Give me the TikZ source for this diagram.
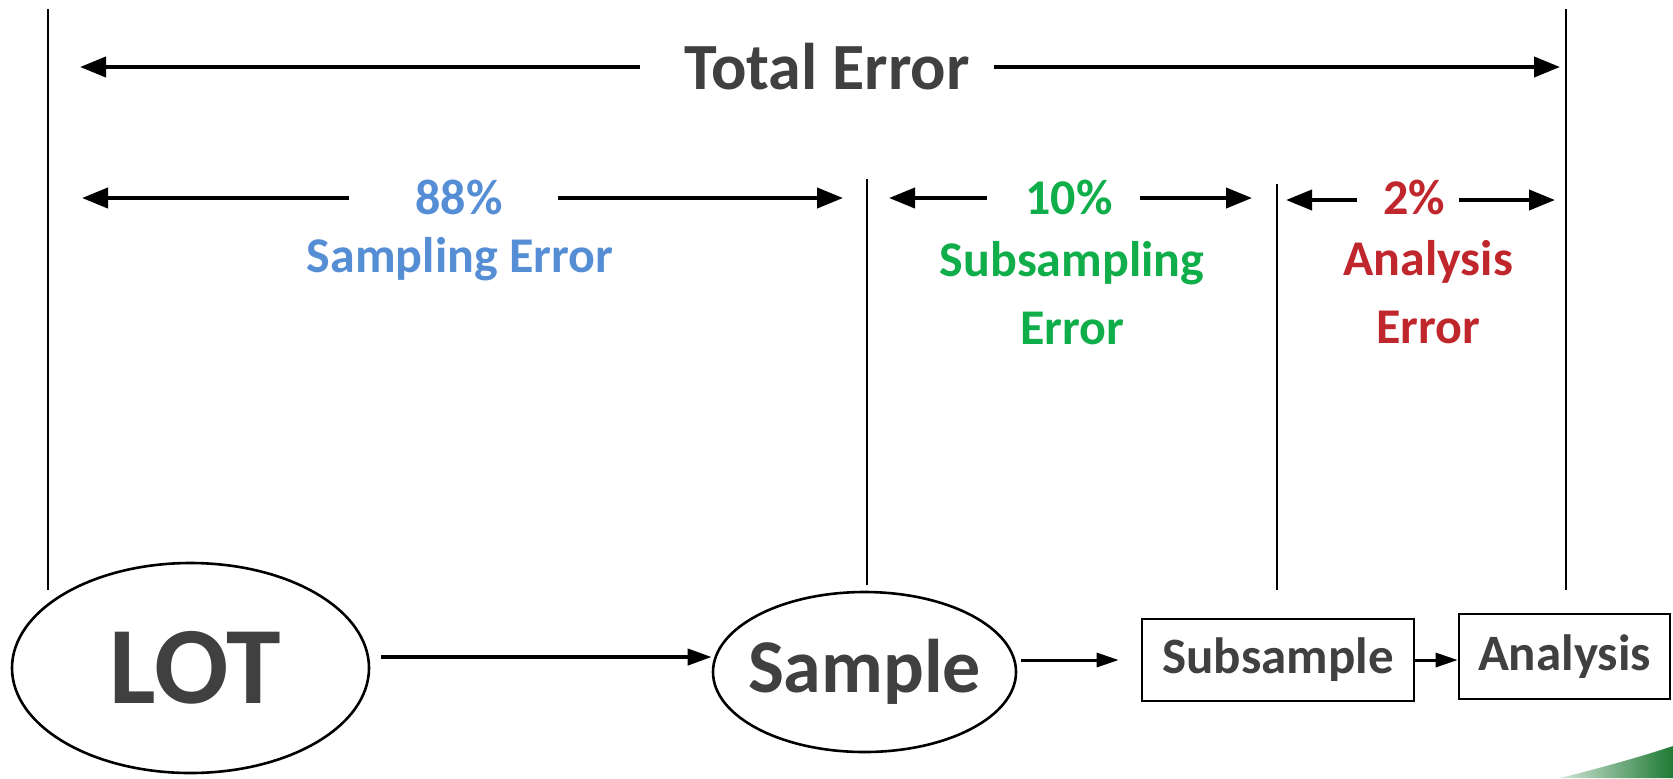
\documentclass[tikz,border=0pt]{standalone}
\usepackage{fontspec}
\setmainfont{Carlito}
\usetikzlibrary{arrows.meta,shapes.geometric}
\definecolor{txtgray}{HTML}{404040}
\definecolor{errblue}{HTML}{558ED5}
\definecolor{errgreen}{HTML}{10AE4A}
\definecolor{errred}{HTML}{C0272D}
\definecolor{swoosh}{HTML}{1E7A34}
\tikzset{
  vline/.style={line width=1pt, black},
  dimarrow/.style={line width=2pt, -{Triangle[length=13pt,width=10pt]}},
  flow/.style={line width=2pt, -{Triangle[length=12pt,width=8pt]}},
  flowthin/.style={line width=1.5pt, -{Triangle[length=11pt,width=7pt]}},
  oval/.style={ellipse, draw, line width=1.3pt, inner sep=0pt, font=\bfseries, text=txtgray},
  stepbox/.style={rectangle, draw, line width=1.3pt, inner sep=0pt, font=\bfseries\fontsize{25.5}{30}\selectfont, text=txtgray},
  lbl/.style={font=\bfseries\fontsize{25}{30}\selectfont, align=center, inner sep=0pt}
}
\begin{document}
\begin{tikzpicture}[x=0.5pt,y=-0.5pt]
\useasboundingbox (0,0) rectangle (1673,778);

% vertical reference lines
\draw[vline] (48,9) -- (48,590);
\draw[vline] (867,179) -- (867,585);
\draw[vline] (1277,184) -- (1277,590);
\draw[vline] (1566,9) -- (1566,590);

% Total error
\node[font=\bfseries\fontsize{33}{40}\selectfont, text=txtgray, inner sep=0pt] (tot) at (827,67) {Total Error};
\coordinate (totL) at (80,67);
\coordinate (totLe) at (640,67);
\coordinate (totR) at (1560,67);
\coordinate (totRs) at (994,67);
\draw[dimarrow] (totLe) -- (totL);
\draw[dimarrow] (totRs) -- (totR);

% 88 % sampling error
\node[lbl, text=errblue] (p88) at (459,197) {88\%};
\node[lbl, text=errblue] (samperr) at (460,259) {Sampling Error};
\coordinate (a1L) at (82,198);
\coordinate (a1Le) at (349,198);
\coordinate (a1Rs) at (558,198);
\coordinate (a1R) at (843,198);
\draw[dimarrow] (a1Le) -- (a1L);
\draw[dimarrow] (a1Rs) -- (a1R);

% 10 % subsampling error
\node[lbl, text=errgreen] (p10) at (1069,197) {10\%};
\node[lbl, text=errgreen] (suberr) at (1072,293) {Subsampling\\[4pt]Error};
\coordinate (a2L) at (889,198);
\coordinate (a2Le) at (987,198);
\coordinate (a2Rs) at (1140,198);
\coordinate (a2R) at (1252,198);
\draw[dimarrow] (a2Le) -- (a2L);
\draw[dimarrow] (a2Rs) -- (a2R);

% 2 % analysis error
\node[lbl, text=errred] (p2) at (1414,197) {2\%};
\node[lbl, text=errred] (anaerr) at (1428,292) {Analysis\\[4pt]Error};
\coordinate (a3L) at (1286,200);
\coordinate (a3Le) at (1357,200);
\coordinate (a3Rs) at (1459,200);
\coordinate (a3R) at (1555,200);
\draw[dimarrow] (a3Le) -- (a3L);
\draw[dimarrow] (a3Rs) -- (a3R);

% process chain
\node[oval, minimum width=178.5pt, minimum height=105pt, font=\bfseries\fontsize{55}{60}\selectfont] (lot) at (190.5,668) {\hspace*{5pt}LOT};
\node[oval, inner xsep=-12pt, minimum width=151.5pt, minimum height=80pt, font=\bfseries\fontsize{38}{44}\selectfont] (sample) at (864.5,672) {\raisebox{-3pt}{Sample}};
\node[stepbox, minimum width=136pt, minimum height=41pt] (subsample) at (1278,660) {Subsample};
\node[stepbox, minimum width=105.5pt, minimum height=42.5pt] (analysis) at (1564.5,656.5) {Analysis};

\draw[flow] ([xshift=5.5pt,yshift=5.5pt]lot.east) -- ([yshift=7.5pt]sample.west);
\draw[flowthin] ([xshift=2pt]sample.east |- subsample.west) -- ([xshift=-11pt]subsample.west);
\draw[flowthin] (subsample.east) -- (analysis.west |- subsample.east);

% green swoosh in the corner
\shade[left color=swoosh!20!white, right color=swoosh]
  (1560,778) .. controls (1600,768) and (1640,757) .. (1673,746) -- (1673,778) -- cycle;
\end{tikzpicture}
\end{document}
